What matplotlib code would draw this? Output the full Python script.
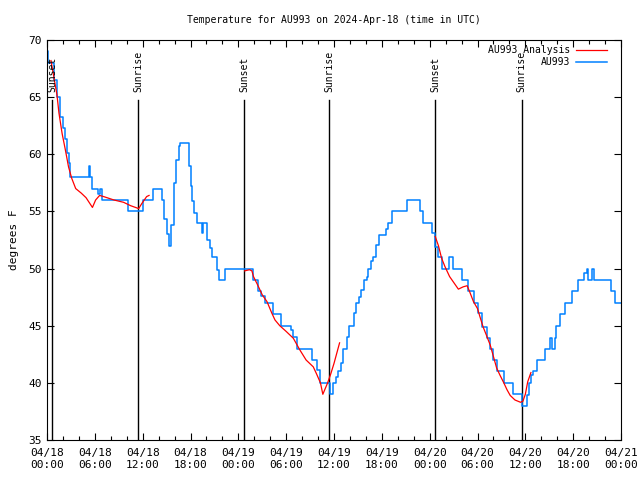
import numpy as np
import matplotlib
matplotlib.use("Agg")
import matplotlib.pyplot as plt
import matplotlib.dates as mdates
from datetime import datetime, timedelta

plt.rcParams['font.family'] = ['DejaVu Sans Mono']
plt.rcParams['font.size'] = 8

# ---------------------------------------------------------------
# data (hours since 2024-04-18 00:00 UTC, degrees F)
# ---------------------------------------------------------------
START = datetime(2024, 4, 18)

obs_hours = [0.0, 0.15, 0.85, 1.3, 1.6, 2.0, 2.3, 2.5, 2.7, 2.9, 5.25, 5.45, 5.7,
             6.4, 6.7, 6.95, 10.2, 12.0, 13.3, 14.4, 14.7, 15.0, 15.3, 15.6, 15.9,
             16.2, 16.5, 16.7, 17.8, 18.0, 18.2, 18.5, 18.8, 19.4, 19.6, 20.1, 20.4,
             20.7, 21.3, 21.6, 22.3, 25.9, 26.5, 26.9, 27.3, 28.4, 29.3, 30.6, 30.9,
             31.4, 33.2, 33.9, 34.3, 35.5, 35.9, 36.3, 36.5, 36.9, 37.1, 37.6, 37.9,
             38.5, 38.8, 39.1, 39.4, 39.8, 40.1, 40.3, 40.6, 40.9, 41.3, 41.7, 42.5,
             42.8, 43.3, 45.1, 46.8, 47.2, 48.3, 48.7, 49.0, 49.5, 50.4, 50.9, 52.1,
             52.8, 53.5, 54.0, 54.6, 55.2, 55.6, 56.0, 56.5, 57.3, 58.4, 59.6, 60.2,
             60.4, 60.7, 60.9, 61.5, 62.5, 63.1, 63.3, 63.7, 63.9, 64.4, 65.0, 65.8,
             66.6, 67.4, 67.7, 67.9, 68.3, 68.6, 70.8, 71.3, 72.0]
obs_temp = [69.0, 68.0, 66.5, 65.0, 63.3, 62.3, 61.3, 60.1, 59.2, 58.0, 59.0, 58.0, 57.0,
            56.5, 57.0, 56.0, 55.0, 56.0, 57.0, 56.0, 54.3, 53.0, 52.0, 53.8, 57.5,
            59.5, 60.7, 61.0, 59.0, 57.2, 55.9, 54.9, 54.0, 53.1, 54.0, 52.5, 51.8,
            51.0, 49.9, 49.0, 50.0, 49.0, 48.0, 47.6, 47.0, 46.0, 45.0, 44.6, 44.0,
            43.0, 42.0, 41.1, 40.0, 39.0, 40.0, 40.5, 41.0, 41.7, 43.0, 44.0, 45.0,
            46.1, 47.0, 47.5, 48.1, 49.0, 49.3, 50.0, 50.7, 51.0, 52.1, 52.9, 53.5,
            54.0, 55.0, 56.0, 55.0, 54.0, 53.1, 51.9, 51.0, 50.0, 51.0, 50.0, 49.0,
            48.0, 47.0, 46.1, 44.9, 43.9, 43.0, 42.0, 41.0, 40.0, 39.0, 38.0, 38.9,
            40.0, 40.7, 41.0, 42.0, 43.0, 43.9, 43.0, 43.9, 45.0, 46.0, 47.0, 48.0,
            49.0, 49.6, 50.0, 49.0, 50.0, 49.0, 48.0, 47.0, 47.0]

# analysis comes in three night-time pieces
ana1_hours = [0.5, 0.9, 1.25, 1.5, 1.9, 2.3, 2.7, 3.1, 3.6, 4.3, 4.9, 5.7, 6.1, 6.6,
              7.1, 8.4, 9.6, 10.5, 11.5, 11.9, 12.5, 12.8]
ana1_temp = [68.2, 66.6, 65.2, 63.6, 61.8, 60.4, 58.9, 57.9, 57.0, 56.6, 56.2, 55.35,
             56.0, 56.4, 56.3, 56.0, 55.8, 55.5, 55.25, 55.7, 56.3, 56.4]
ana2_hours = [24.8, 25.4, 25.7, 25.9, 26.4, 27.0, 27.6, 28.2, 28.6, 29.2, 30.0, 30.9,
              31.7, 32.5, 33.4, 33.8, 34.3, 34.6, 35.2, 35.6, 36.0, 36.7]
ana2_temp = [49.8, 49.9, 49.8, 49.3, 48.6, 47.7, 47.1, 46.1, 45.5, 45.0, 44.5, 43.9,
             42.9, 42.0, 41.4, 40.8, 40.0, 39.0, 40.0, 40.8, 41.7, 43.5]
ana3_hours = [48.7, 49.1, 49.5, 49.9, 50.5, 51.1, 51.6, 52.2, 52.7, 53.0, 53.5, 54.0,
              54.3, 54.7, 55.1, 55.6, 56.0, 56.4, 56.8, 57.3, 57.7, 58.1, 58.7, 59.4,
              59.7, 60.0, 60.3, 60.7]
ana3_temp = [52.8, 52.0, 50.9, 50.2, 49.3, 48.7, 48.2, 48.4, 48.5, 48.0, 47.1, 46.5,
             45.8, 44.9, 44.2, 43.3, 42.3, 41.3, 40.7, 40.0, 39.4, 38.9, 38.5, 38.3,
             38.4, 39.0, 40.1, 40.9]

sun_hours = [0.65, 11.45, 24.76, 35.43, 48.72, 59.55]
sun_labels = ['Sunset', 'Sunrise', 'Sunset', 'Sunrise', 'Sunset', 'Sunrise']


def to_num(hours):
    return [mdates.date2num(START + timedelta(hours=h)) for h in hours]


# join the analysis pieces with gaps
ana_x = to_num(ana1_hours) + [np.nan] + to_num(ana2_hours) + [np.nan] + to_num(ana3_hours)
ana_temp = ana1_temp + [np.nan] + ana2_temp + [np.nan] + ana3_temp

# ---------------------------------------------------------------
# plot
# ---------------------------------------------------------------
fig = plt.figure(figsize=(6.4, 4.8), dpi=100)
ax = fig.add_axes([47 / 640, 40 / 480, 574 / 640, 400 / 480])

ax.plot(ana_x, ana_temp, color='#ff0000', linewidth=0.9, label='AU993 Analysis', zorder=3)
ax.plot(to_num(obs_hours), obs_temp, color='#0080ff', linewidth=1.1,
        drawstyle='steps-post', label='AU993', zorder=2)

for h, lab in zip(sun_hours, sun_labels):
    t = mdates.date2num(START + timedelta(hours=h))
    ax.axvline(t, ymin=0, ymax=0.85, color='black', linewidth=1.0, zorder=1)
    ax.text(t, 65.45, lab, rotation=90, ha='center', va='bottom', fontsize=7)

ax.set_xlim(mdates.date2num(START), mdates.date2num(START + timedelta(hours=72)))
ax.set_ylim(35, 70)
ax.set_yticks(range(35, 71, 5))

ax.xaxis.set_major_locator(mdates.HourLocator(byhour=range(0, 24, 6)))
ax.xaxis.set_minor_locator(mdates.HourLocator(byhour=range(0, 24, 2)))
ax.xaxis.set_major_formatter(mdates.DateFormatter('%m/%d\n%H:%M'))

ax.tick_params(which='both', direction='in', top=True, right=True)
ax.tick_params(which='major', length=5, width=0.8)
ax.tick_params(axis='x', which='major', pad=6)
ax.tick_params(which='minor', length=3, width=0.8)
for s in ax.spines.values():
    s.set_linewidth(0.8)

ax.set_ylabel('degrees F', labelpad=7)
ax.set_title('Temperature for AU993 on 2024-Apr-18 (time in UTC)', pad=12, fontsize=7)

ax.legend(loc='upper right', bbox_to_anchor=(0.985, 1.0), markerfirst=False,
          frameon=False, handlelength=3.2, borderaxespad=0.15, labelspacing=0.2,
          handletextpad=0.6, fontsize=7)

plt.savefig('out.png', dpi=100)
